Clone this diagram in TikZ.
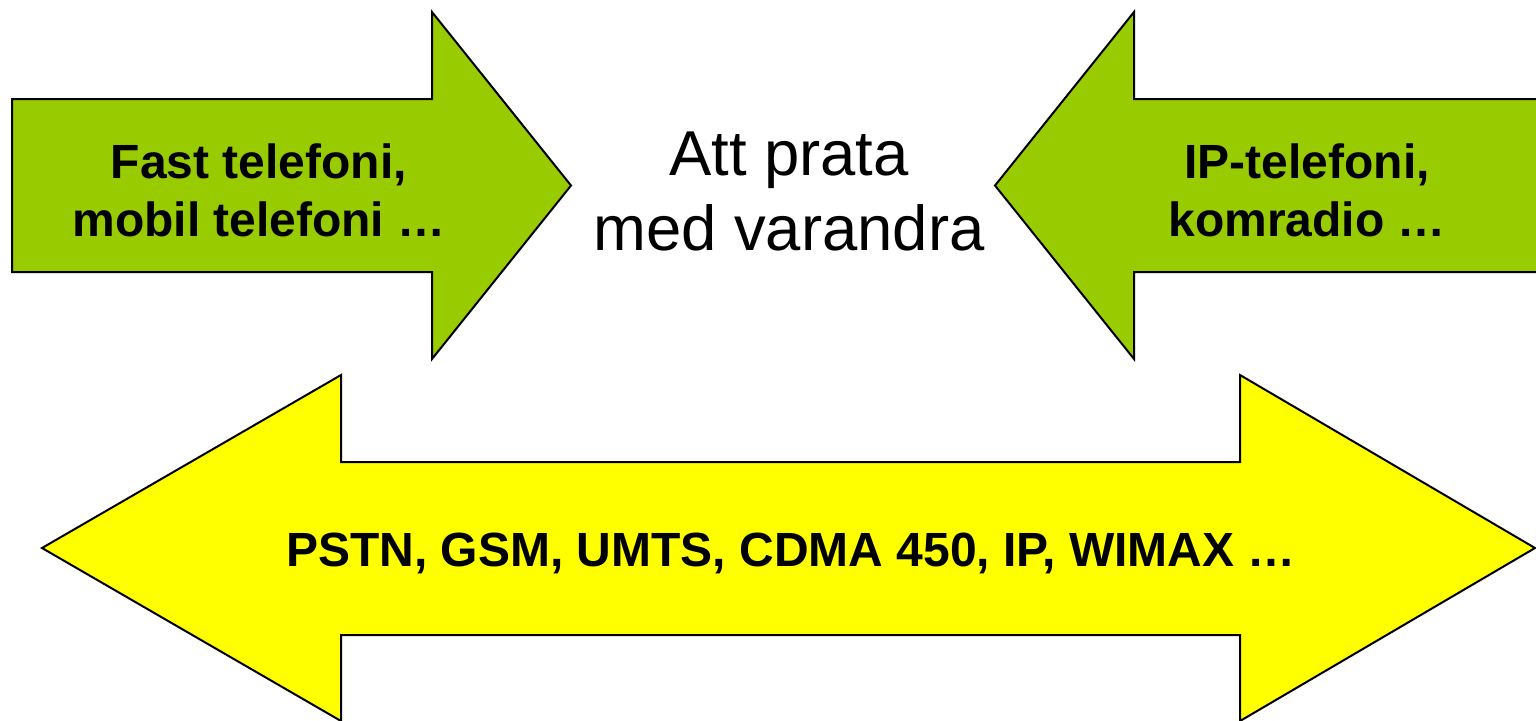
\documentclass[tikz,border=0pt]{standalone}
\usepackage{fontspec}
\setmainfont{Liberation Sans}
\definecolor{arrowgreen}{HTML}{99CC00}
\definecolor{arrowyellow}{HTML}{FFFF00}
\tikzset{
  arrowshape/.style={draw=black,line width=1pt,line join=miter},
  labeltext/.style={font=\fontsize{24}{29}\selectfont\bfseries,align=center,inner sep=0pt},
  maintext/.style={font=\fontsize{31.7}{37.5}\selectfont,align=center,inner sep=0pt}
}
\begin{document}
\begin{tikzpicture}[x=0.5pt,y=-0.5pt]
\useasboundingbox (0,0) rectangle (1536,720);

\begin{scope}
% left green arrow
\coordinate (a1) at (12,99);
\coordinate (a2) at (432,99);
\coordinate (a3) at (432,12);
\coordinate (a4) at (571,185.5);
\coordinate (a5) at (432,359);
\coordinate (a6) at (432,272);
\coordinate (a7) at (12,272);
% right green arrow
\coordinate (b1) at (1545,99);
\coordinate (b2) at (1134,99);
\coordinate (b3) at (1134,12);
\coordinate (b4) at (995,185.5);
\coordinate (b5) at (1134,359);
\coordinate (b6) at (1134,272);
\coordinate (b7) at (1545,272);
% yellow double arrow
\coordinate (c1) at (42,548);
\coordinate (c2) at (341,375);
\coordinate (c3) at (341,462);
\coordinate (c4) at (1240,462);
\coordinate (c5) at (1240,375);
\coordinate (c6) at (1535,548);
\coordinate (c7) at (1240,721);
\coordinate (c8) at (1240,635);
\coordinate (c9) at (341,635);
\coordinate (c10) at (341,721);

\draw[arrowshape,fill=arrowgreen] (a1) -- (a2) -- (a3) -- (a4) -- (a5) -- (a6) -- (a7) -- cycle;
\draw[arrowshape,fill=arrowgreen] (b1) -- (b2) -- (b3) -- (b4) -- (b5) -- (b6) -- (b7) -- cycle;
\draw[arrowshape,fill=arrowyellow] (c1) -- (c2) -- (c3) -- (c4) -- (c5) -- (c6) -- (c7) -- (c8)
  -- (c9) -- (c10) -- cycle;

\node[labeltext] (fast) at (259,190) {Fast telefoni,\\mobil telefoni …};
\node[labeltext] (ip) at (1307,190) {IP-telefoni,\\komradio …};
\node[maintext] (prata) at (789,191) {Att prata\\med varandra};
\node[labeltext,anchor=base] (net) at (791,566) {PSTN, GSM, UMTS, CDMA 450, IP, WIMAX …};
\end{scope}

\end{tikzpicture}
\end{document}
